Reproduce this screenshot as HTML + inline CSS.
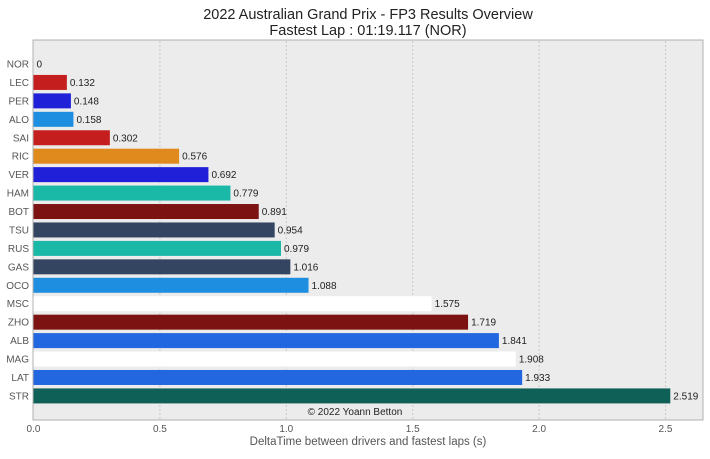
<!DOCTYPE html>
<html><head><meta charset="utf-8"><style>
body{margin:0;background:#fff;width:710px;height:454px;overflow:hidden;font-family:"Liberation Sans",sans-serif}
</style></head><body>
<svg id="c" width="710" height="454" style="font-family:'Liberation Sans',sans-serif">
<text x="368" y="19" text-anchor="middle" font-size="14.5" fill="#222">2022 Australian Grand Prix - FP3 Results Overview</text>
<text x="368" y="35" text-anchor="middle" font-size="14.5" fill="#222">Fastest Lap : 01:19.117 (NOR)</text>
<rect x="33" y="40" width="670" height="380" fill="#ececec" stroke="#b0b0b0"/>
<g id="grid"></g><g id="bars"></g><g id="ticks"></g>
<text x="355" y="415" text-anchor="middle" font-size="10" fill="#222">© 2022 Yoann Betton</text>
<text x="368" y="445" text-anchor="middle" font-size="11.5" fill="#555">DeltaTime between drivers and fastest laps (s)</text>
</svg>
<script>
const drivers=["NOR","LEC","PER","ALO","SAI","RIC","VER","HAM","BOT","TSU","RUS","GAS","OCO","MSC","ZHO","ALB","MAG","LAT","STR"];
const deltas=[0,0.132,0.148,0.158,0.302,0.576,0.692,0.779,0.891,0.954,0.979,1.016,1.088,1.575,1.719,1.841,1.908,1.933,2.519];
const colors=["#ff8700","#c41e1e","#2020d8","#1e8ee0","#c41e1e","#e08a1e","#2020d8","#1ab8a6","#7d1212","#334560","#1ab8a6","#334560","#1e8ee0","#ffffff","#7d1212","#2266e0","#ffffff","#2266e0","#0f6157"];
const xTicks=[0,0.5,1.0,1.5,2.0,2.5];
const ns="http://www.w3.org/2000/svg";
const X=v=>33.5+252.8*v, Y=i=>64+i*18.44;
function mk(t,a,p){const e=document.createElementNS(ns,t);for(const k in a)e.setAttribute(k,a[k]);p.appendChild(e);return e;}
const g=document.getElementById('grid'),b=document.getElementById('bars'),tk=document.getElementById('ticks');
xTicks.forEach(v=>{
 if(v>0){const l=mk('line',{x1:X(v),x2:X(v),y1:41,y2:419,stroke:'#c8c8c8','stroke-dasharray':'2,2'},g);
 
 }
 const t=mk('text',{x:X(v),y:432,'text-anchor':'middle','font-size':'10',fill:'#555'},tk);t.textContent=v.toFixed(1);
 
 
});
drivers.forEach((d,i)=>{
 const y=Y(i);
 const t=mk('text',{x:29,y:y+3.5,'text-anchor':'end','font-size':'10',fill:'#555'},tk);t.textContent=d;
 
 
 if(deltas[i]>0){const r=mk('rect',{x:X(0),y:y-7.5,width:X(deltas[i])-X(0),height:15,fill:colors[i]},b);
 
 }
 const v=mk('text',{x:X(deltas[i])+3,y:y+3.5,'font-size':'10',fill:'#222'},b);v.textContent=String(deltas[i]);
 
 
});
</script>
</body></html>
